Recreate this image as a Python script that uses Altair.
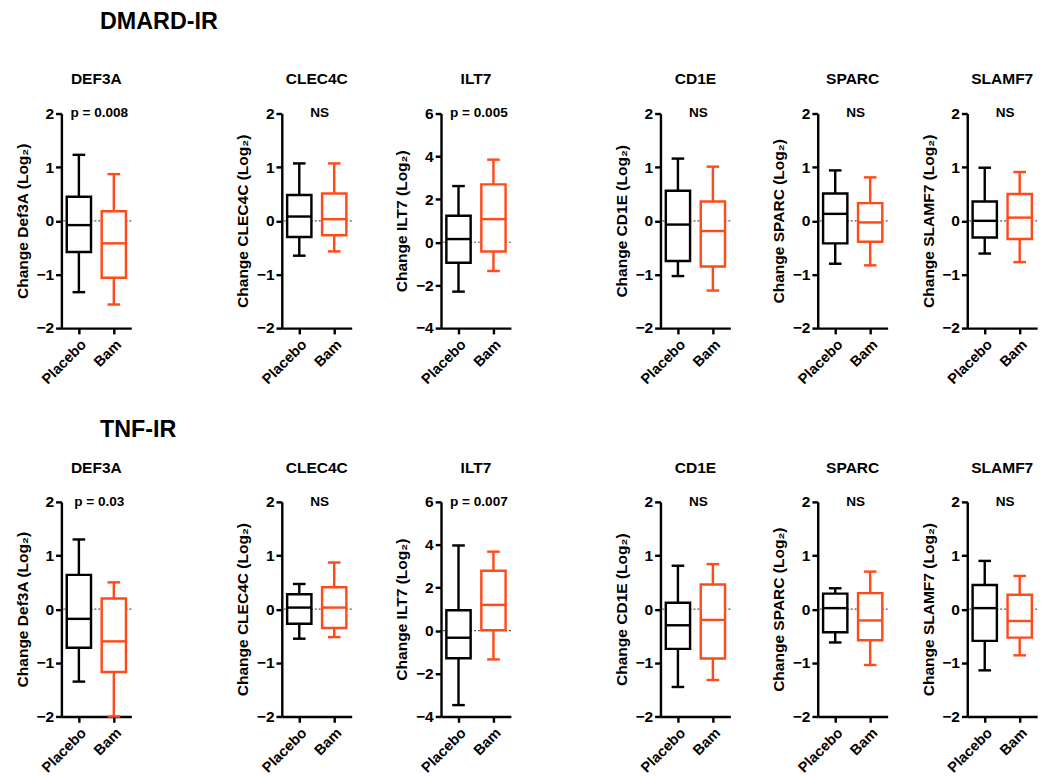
import altair as alt
import pandas as pd

FONT = "Liberation Sans"

genes = ["DEF3A", "CLEC4C", "ILT7", "CD1E", "SPARC", "SLAMF7"]
axis_titles = ["Change Def3A (Log₂)", "Change CLEC4C (Log₂)", "Change ILT7 (Log₂)",
               "Change CD1E (Log₂)", "Change SPARC (Log₂)", "Change SLAMF7 (Log₂)"]
y_min = [-2, -2, -4, -2, -2, -2]
y_max = [2, 2, 6, 2, 2, 2]
y_step = [1, 1, 2, 1, 1, 1]
groups = ["Placebo", "Bam"]
colors = ["#000000", "#FF4A1A"]

# [min, Q1, median, Q3, max]
dmard_placebo = [[-1.33, -0.58, -0.08, 0.45, 1.23],
                 [-0.65, -0.30, 0.08, 0.48, 1.07],
                 [-2.30, -0.95, 0.15, 1.24, 2.62],
                 [-1.03, -0.75, -0.07, 0.56, 1.16],
                 [-0.80, -0.42, 0.13, 0.51, 0.94],
                 [-0.61, -0.31, 0.00, 0.36, 0.99]]
dmard_bam = [[-1.56, -1.06, -0.42, 0.18, 0.87],
             [-0.57, -0.27, 0.03, 0.51, 1.07],
             [-1.34, -0.43, 1.08, 2.70, 3.85],
             [-1.30, -0.85, -0.19, 0.36, 1.01],
             [-0.83, -0.39, -0.03, 0.33, 0.81],
             [-0.77, -0.34, 0.06, 0.50, 0.91]]
tnf_placebo = [[-1.35, -0.72, -0.18, 0.64, 1.30],
               [-0.55, -0.27, 0.03, 0.28, 0.47],
               [-3.47, -1.29, -0.33, 0.95, 3.97],
               [-1.45, -0.74, -0.30, 0.12, 0.81],
               [-0.62, -0.43, 0.02, 0.29, 0.39],
               [-1.14, -0.59, 0.02, 0.45, 0.90]]
tnf_bam = [[-2.00, -1.17, -0.60, 0.20, 0.50],
           [-0.52, -0.35, 0.03, 0.41, 0.87],
           [-1.34, 0.02, 1.20, 2.79, 3.68],
           [-1.32, -0.92, -0.20, 0.46, 0.84],
           [-1.04, -0.58, -0.21, 0.30, 0.70],
           [-0.86, -0.53, -0.22, 0.27, 0.62]]
dmard_notes = ["p = 0.008", "NS", "p = 0.005", "NS", "NS", "NS"]
tnf_notes = ["p = 0.03", "NS", "p = 0.007", "NS", "NS", "NS"]

W, H = 72, 221
SW = 2.5
BOX = 25
CAP = 13
spacer_widths = [102, 39, 101, 37, 29]


def panel(i, p_stats, b_stats, note):
    rows = []
    for g, s in zip(groups, [p_stats, b_stats]):
        rows.append(dict(group=g, lo=s[0], q1=s[1], med=s[2], q3=s[3], hi=s[4]))
    df = pd.DataFrame(rows)
    yscale = alt.Scale(domain=[y_min[i], y_max[i]], nice=False, zero=False)
    yaxis = alt.Axis(values=list(range(y_min[i], y_max[i] + 1, y_step[i])), format="d",
                     title=axis_titles[i], grid=False)
    x = alt.X("group:N", sort=groups,
              scale=alt.Scale(domain=groups, paddingInner=0, paddingOuter=0),
              axis=alt.Axis(title=None, labelAngle=-45))
    color = alt.Color("group:N", scale=alt.Scale(domain=groups, range=colors), legend=None)
    base = alt.Chart(df)

    zero = alt.Chart(pd.DataFrame({"z": [0]})).mark_rule(
        strokeDash=[2, 2], color="#555555", strokeWidth=1.2
    ).encode(y=alt.Y("z:Q", scale=yscale, axis=yaxis))
    w_low = base.mark_rule(strokeWidth=SW).encode(
        x=x, y=alt.Y("lo:Q", scale=yscale, axis=yaxis), y2="q1:Q", color=color)
    w_high = base.mark_rule(strokeWidth=SW).encode(
        x=x, y=alt.Y("q3:Q", scale=yscale, axis=yaxis), y2="hi:Q", color=color)
    box = base.mark_bar(size=BOX, fill="white", strokeWidth=SW, opacity=1).encode(
        x=x, y=alt.Y("q1:Q", scale=yscale, axis=yaxis), y2="q3:Q", stroke=color)
    med = base.mark_tick(size=BOX, thickness=SW, opacity=1).encode(
        x=x, y=alt.Y("med:Q", scale=yscale, axis=yaxis), color=color)
    cap_lo = base.mark_tick(size=CAP, thickness=SW, opacity=1).encode(
        x=x, y=alt.Y("lo:Q", scale=yscale, axis=yaxis), color=color)
    cap_hi = base.mark_tick(size=CAP, thickness=SW, opacity=1).encode(
        x=x, y=alt.Y("hi:Q", scale=yscale, axis=yaxis), color=color)
    txt = alt.Chart(pd.DataFrame({"note": [note], "top": [y_max[i]]})).mark_text(
        font=FONT, fontSize=14, fontWeight="bold", baseline="middle", align="center", color="black"
    ).encode(text="note:N", x=alt.value(W / 2 + 3), y=alt.Y("top:Q", scale=yscale, axis=yaxis))

    return alt.layer(zero, w_low, w_high, box, med, cap_lo, cap_hi, txt).properties(
        width=W, height=H,
        title=alt.TitleParams(genes[i], fontSize=16, fontWeight="bold", font=FONT,
                              anchor="middle", frame="group", offset=19),
    )


def spacer(w):
    return alt.Chart(pd.DataFrame({"a": [0]})).mark_point(opacity=0).encode(
        x=alt.value(0), y=alt.value(0)).properties(width=w, height=10)


def row(title, placebo, bam, notes, dx, dy, offset):
    items = []
    for i in range(6):
        items.append(panel(i, placebo[i], bam[i], notes[i]))
        if i < 5:
            items.append(spacer(spacer_widths[i]))
    return alt.hconcat(*items, spacing=0).properties(
        title=alt.TitleParams(title, anchor="start", fontSize=24, fontWeight="bold",
                              font=FONT, dx=dx, dy=dy, offset=offset)
    )


chart = alt.vconcat(
    row("DMARD-IR", dmard_placebo, dmard_bam, dmard_notes, 88, -9, 30),
    row("TNF-IR", tnf_placebo, tnf_bam, tnf_notes, 88, -5, 14),
    spacing=32,
).properties(
    padding={"left": 6, "top": -9, "right": 5, "bottom": 2}
).configure_view(stroke=None).configure_axis(
    labelFont=FONT, titleFont=FONT, labelFontWeight="bold", titleFontWeight="bold",
    labelFontSize=16, titleFontSize=16, labelColor="black", titleColor="black",
    domainColor="black", tickColor="black", domainWidth=SW, tickWidth=SW, tickSize=6,
    labelPadding=2, titlePadding=6,
).configure_axisX(labelFontSize=15, labelPadding=3)

chart.save("out.html", embed_options={"renderer": "svg", "actions": False})
